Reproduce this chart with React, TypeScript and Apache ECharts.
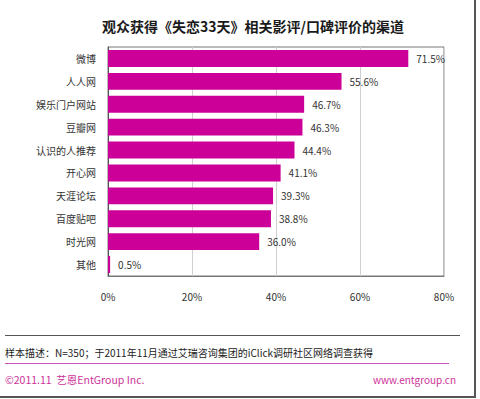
import React, { useEffect, useRef } from "react";
import * as echarts from "echarts";

const categories = ["微博", "人人网", "娱乐门户网站", "豆瓣网", "认识的人推荐", "开心网", "天涯论坛", "百度贴吧", "时光网", "其他"];
const values = [71.5, 55.6, 46.7, 46.3, 44.4, 41.1, 39.3, 38.8, 36.0, 0.5];
const xTicks = [0, 20, 40, 60, 80];

const FONT = "'Noto Sans CJK SC', 'Noto Sans', sans-serif";

export default function App() {
  const ref = useRef<HTMLDivElement>(null);
  useEffect(() => {
    if (!ref.current) return;
    const chart = echarts.init(ref.current, null, { renderer: "svg" });
    chart.setOption({
      animation: false,
      backgroundColor: "#ffffff",
      textStyle: { fontFamily: FONT },
      title: {
        text: "观众获得《失恋33天》相关影评/口碑评价的渠道",
        left: 248,
        top: 14,
        textAlign: "center",
        textStyle: { fontSize: 14, fontWeight: "bold", color: "#1a1a1a", fontFamily: FONT },
      },
      grid: {
        left: 108,
        top: 47,
        width: 336,
        height: 229,
        show: true,
        borderColor: "#777",
        borderWidth: 1,
        backgroundColor: "transparent",
      },
      xAxis: {
        type: "value",
        min: xTicks[0],
        max: xTicks[xTicks.length - 1],
        interval: 20,
        axisLine: { show: true, lineStyle: { color: "#777" } },
        axisTick: { show: false },
        splitLine: { show: true, lineStyle: { color: "#d0d0d0", width: 1 } },
        axisLabel: {
          formatter: (v: number) => v + "%",
          color: "#333",
          fontSize: 10,
          margin: 15,
          fontFamily: FONT,
        },
      },
      yAxis: {
        type: "category",
        data: categories,
        inverse: true,
        axisLine: { show: true, lineStyle: { color: "#555" } },
        axisTick: { show: false },
        axisLabel: { color: "#333", fontSize: 10, margin: 12, fontFamily: FONT },
      },
      series: [
        {
          type: "bar",
          data: values,
          barCategoryGap: "26%",
          itemStyle: { color: "#CC0099" },
          label: {
            show: true,
            position: "right",
            distance: 8,
            formatter: (p: any) => p.value.toFixed(1) + "%",
            color: "#333",
            fontSize: 10,
            fontFamily: FONT,
          },
        },
      ],
      graphic: [
        { type: "line", shape: { x1: 5, y1: 335.5, x2: 460, y2: 335.5 }, style: { stroke: "#555", lineWidth: 1 } },
        {
          type: "text",
          x: 5,
          y: 352,
          style: {
            text: "样本描述：N=350；于2011年11月通过艾瑞咨询集团的iClick调研社区网络调查获得",
            fill: "#222",
            fontSize: 10,
            fontFamily: FONT,
            verticalAlign: "middle",
          },
        },
        { type: "line", shape: { x1: 5, y1: 363.5, x2: 449, y2: 363.5 }, style: { stroke: "#cc55bb", lineWidth: 1 } },
        {
          type: "text",
          x: 5,
          y: 379,
          style: { text: "©2011.11  艺恩EntGroup Inc.", fill: "#cc3399", fontSize: 10.5, fontFamily: FONT, verticalAlign: "middle" },
        },
        {
          type: "text",
          x: 456,
          y: 379,
          style: { text: "www.entgroup.cn", fill: "#cc3399", fontSize: 10, fontFamily: FONT, verticalAlign: "middle", align: "right" },
        },
        { type: "line", shape: { x1: 475, y1: 0, x2: 475, y2: 398 }, style: { stroke: "#555", lineWidth: 2 } },
        { type: "line", shape: { x1: 0, y1: 397, x2: 476, y2: 397 }, style: { stroke: "#555", lineWidth: 2 } },
      ],
    });
    return () => chart.dispose();
  }, []);
  return (
    <div
      ref={ref}
      style={{ position: "fixed", left: 0, top: 0, width: 480, height: 399, background: "#fff" }}
    />
  );
}
